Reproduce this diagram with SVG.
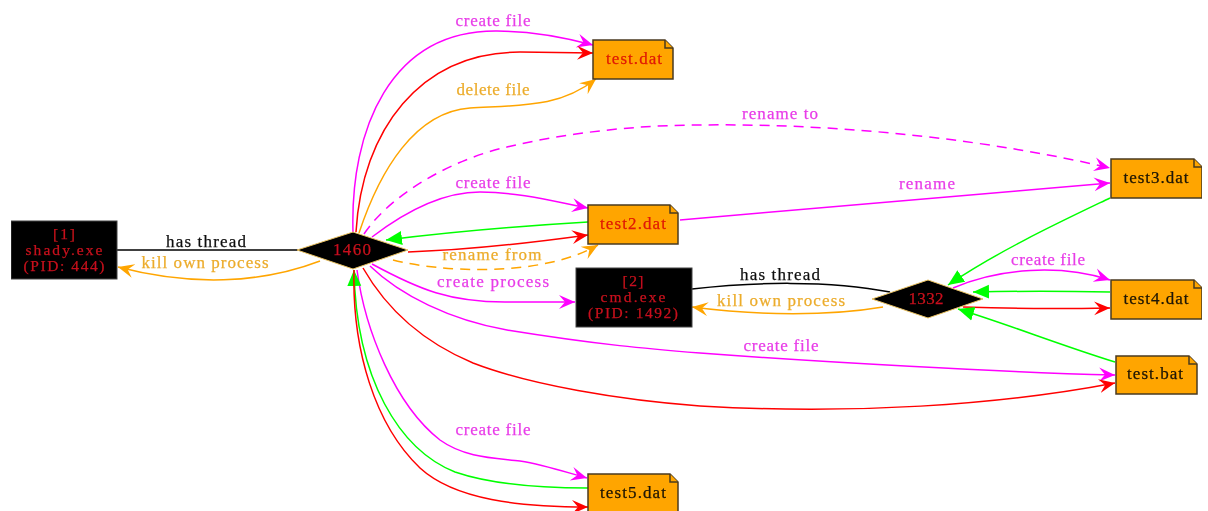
<svg xmlns="http://www.w3.org/2000/svg" width="1208" height="511" viewBox="0 0 1208 511">
<style>
text{font-family:"Liberation Serif","DejaVu Serif",serif;font-size:17px;text-anchor:middle;stroke-width:.25}
.small{font-size:15.5px}
.e{fill:none;stroke-width:1.5}
.m{stroke:#f0f}.r{stroke:#f00}.o{stroke:#ffa500}.g{stroke:#0f0}.k{stroke:#000}
.d{stroke-dasharray:10 7}
.tm{fill:#e83ce8;stroke:#e83ce8}.to{fill:#ecac2c;stroke:#ecac2c}.tk{fill:#111;stroke:#111}.tr{fill:#c8101c;stroke:#c8101c}
.box{fill:#000;stroke:#444}.dia{fill:#000;stroke:#e8c060}
.note{fill:#ffa500;stroke:#4a3a20;stroke-width:1.5}
.ntr{fill:#e01808;stroke:#e01808}.ntk{fill:#1c1408;stroke:#1c1408}
</style>
<defs>
<filter id="soft" x="0" y="0" width="100%" height="100%"><feGaussianBlur stdDeviation="0.5"/></filter>
<marker id="am" markerUnits="userSpaceOnUse" markerWidth="18" markerHeight="16" refX="16" refY="8" orient="auto"><path d="M0 1L16 8L0 15L6 8Z" fill="#f0f"/></marker>
<marker id="ar" markerUnits="userSpaceOnUse" markerWidth="18" markerHeight="16" refX="16" refY="8" orient="auto"><path d="M0 1L16 8L0 15L6 8Z" fill="#f00"/></marker>
<marker id="ao" markerUnits="userSpaceOnUse" markerWidth="18" markerHeight="16" refX="16" refY="8" orient="auto"><path d="M0 1L16 8L0 15L6 8Z" fill="#ffa500"/></marker>
<marker id="ag" markerUnits="userSpaceOnUse" markerWidth="18" markerHeight="16" refX="16" refY="8" orient="auto"><path d="M0 1L16 8L0 15Z" fill="#0f0"/></marker>
</defs>
<g filter="url(#soft)">
<g id="connectors">
<path class="e k" d="M117 250H299"/>
<path class="e o" marker-end="url(#ao)" d="M320 261C260 284 190 286 118 267"/>
<path class="e m" marker-end="url(#am)" d="M353 232C350 130 390 30 497 31C530 31 560 36 593 45"/>
<path class="e r" marker-end="url(#ar)" d="M356 232C362 130 420 52 520 52L593 53"/>
<path class="e o" marker-end="url(#ao)" d="M359 233C380 170 415 112 470 108C525 105 560 107 596 79"/>
<path class="e m d" marker-end="url(#am)" d="M364 234C390 195 450 160 507 147C570 132 640 125 700 125C850 123 1000 142 1110 168"/>
<path class="e m" marker-end="url(#am)" d="M372 237C410 208 445 192 480 192C520 192 560 203 588 208"/>
<path class="e g" marker-end="url(#ag)" d="M588 222C520 226 450 232 386 240"/>
<path class="e r" marker-end="url(#ar)" d="M408 252C470 250 530 243 588 235"/>
<path class="e o d" marker-end="url(#ao)" d="M393 260C440 272 540 278 598 245"/>
<path class="e m" marker-end="url(#am)" d="M680 220L1110 183"/>
<path class="e g" marker-end="url(#ag)" d="M1110 198C1060 222 1000 250 948 285"/>
<path class="e m" marker-end="url(#am)" d="M372 264C420 290 450 302 505 302L575 302"/>
<path class="e m" marker-end="url(#am)" d="M370 266C400 295 450 320 507 330C600 345 650 349 700 353C820 362 1000 372 1115 375"/>
<path class="e r" marker-end="url(#ar)" d="M363 268C390 315 430 345 473 363C530 385 620 400 700 406C850 415 1000 405 1115 383"/>
<path class="e m" marker-end="url(#am)" d="M357 270C365 330 395 405 440 440C465 458 495 458 520 461C545 465 565 472 587 478"/>
<path class="e g" marker-end="url(#ag)" d="M588 488C540 488 490 484 455 472C400 450 356 380 354 270"/>
<path class="e r" marker-end="url(#ar)" d="M354 270C352 350 375 425 420 468C455 500 520 507 588 507"/>
<path class="e k" d="M692 289C750 282 830 280 890 292"/>
<path class="e o" marker-end="url(#ao)" d="M883 307C830 316 760 316 692 307"/>
<path class="e m" marker-end="url(#am)" d="M953 288C1000 268 1060 264 1110 280"/>
<path class="e g" marker-end="url(#ag)" d="M1110 292C1060 291 1020 291 973 292"/>
<path class="e r" marker-end="url(#ar)" d="M963 307C1020 309 1060 309 1110 308"/>
<path class="e g" marker-end="url(#ag)" d="M1115 362C1060 345 1010 325 958 309"/>
</g>
<g id="n-shady"><rect class="box" x="11" y="221" width="106" height="58"/><text class="tr small" x="64" y="239" textLength="22">[1]</text><text class="tr small" x="64" y="255" textLength="77">shady.exe</text><text class="tr small" x="64" y="271" textLength="81">(PID: 444)</text></g>
<g id="n-1460"><path class="dia" d="M297 250L353 232L408 250L353 269Z"/><text class="tr" x="352" y="255" textLength="38">1460</text></g>
<g id="n-cmd"><rect class="box" x="576" y="268" width="116" height="59"/><text class="tr small" x="633" y="286" textLength="21">[2]</text><text class="tr small" x="633" y="302" textLength="65">cmd.exe</text><text class="tr small" x="633" y="318" textLength="90">(PID: 1492)</text></g>
<g id="n-1332"><path class="dia" d="M872 299L928 280L983 299L928 318Z"/><text class="tr" x="926" y="304" textLength="35">1332</text></g>
<g id="n-test"><path class="note" d="M593 40H665L673 48V79H593Z"/><path class="note" d="M665 40V48H673"/><text class="ntr" x="634" y="64" textLength="56">test.dat</text></g>
<g id="n-test2"><path class="note" d="M588 205H670L678 213V244H588Z"/><path class="note" d="M670 205V213H678"/><text class="ntr" x="633" y="229" textLength="66">test2.dat</text></g>
<g id="n-test3"><path class="note" d="M1111 159H1194L1202 167V198H1111Z"/><path class="note" d="M1194 159V167H1202"/><text class="ntk" x="1156" y="183" textLength="65">test3.dat</text></g>
<g id="n-test4"><path class="note" d="M1111 280H1194L1202 288V319H1111Z"/><path class="note" d="M1194 280V288H1202"/><text class="ntk" x="1156" y="304" textLength="65">test4.dat</text></g>
<g id="n-testbat"><path class="note" d="M1116 356H1189L1197 364V394H1116Z"/><path class="note" d="M1189 356V364H1197"/><text class="ntk" x="1155" y="379" textLength="56">test.bat</text></g>
<g id="n-test5"><path class="note" d="M588 474H670L678 482V513H588Z"/><path class="note" d="M670 474V482H678"/><text class="ntk" x="633" y="498" textLength="66">test5.dat</text></g>
<g id="labels">
<text class="tm" x="493" y="26" textLength="75">create file</text>
<text class="to" x="493" y="95" textLength="73">delete file</text>
<text class="tm" x="780" y="119" textLength="76">rename to</text>
<text class="tm" x="493" y="188" textLength="75">create file</text>
<text class="tm" x="927" y="189" textLength="56">rename</text>
<text class="tk" x="206" y="247" textLength="80">has thread</text>
<text class="to" x="205" y="268" textLength="127">kill own process</text>
<text class="to" x="492" y="260" textLength="99">rename from</text>
<text class="tm" x="493" y="287" textLength="112">create process</text>
<text class="tk" x="780" y="280" textLength="80">has thread</text>
<text class="to" x="781" y="306" textLength="128">kill own process</text>
<text class="tm" x="1048" y="265" textLength="74">create file</text>
<text class="tm" x="781" y="351" textLength="75">create file</text>
<text class="tm" x="493" y="435" textLength="75">create file</text>
</g>
</g>
</svg>
